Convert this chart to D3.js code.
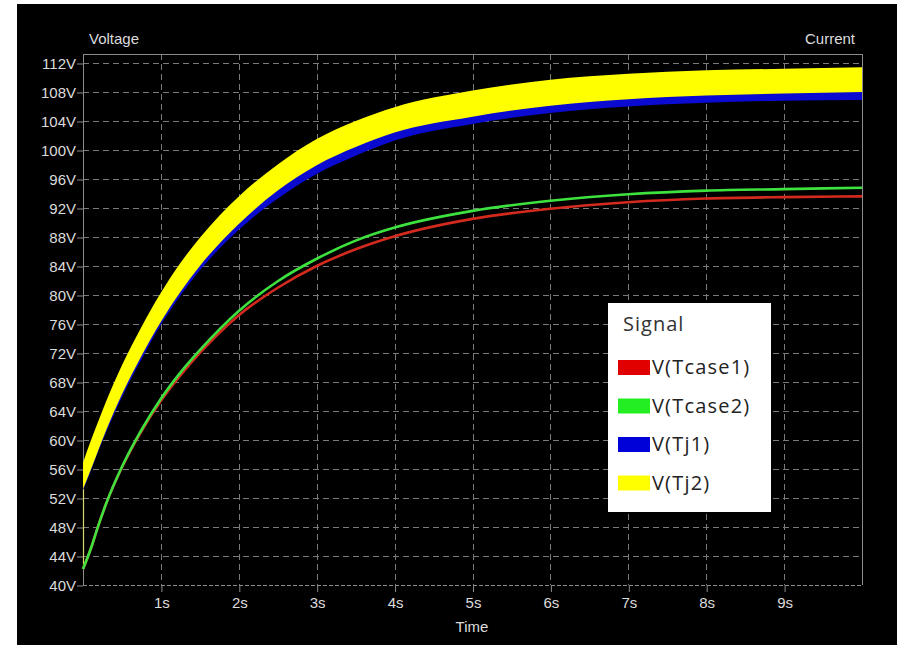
<!DOCTYPE html>
<html>
<head>
<meta charset="utf-8">
<script src="https://cdn.jsdelivr.net/npm/d3@7"></script>
<style>
  body { margin: 0; background: #ffffff; }
  svg { display: block; }
  .axis text { font-family: "Liberation Sans", Arial, sans-serif; font-size: 15px; fill: #dcdcdc; }
  .axis line { stroke: #8c8c8c; }
  .axis path { display: none; }
</style>
</head>
<body>
<svg id="chart" width="897" height="645"></svg>
<script>
// Sample times (s)
const times   = [0, 0.1, 0.2, 0.3, 0.5, 0.75, 1, 1.25, 1.5, 2, 2.5, 3, 3.5, 4, 5, 6, 7, 8, 9, 10];
// Case temperatures (as node voltages)
const tcase1  = [42.2, 45.0, 48.3, 51.3, 56.2, 61.2, 65.4, 68.9, 72.0, 77.2, 81.0, 84.0, 86.3, 88.1, 90.5, 91.9, 92.8, 93.3, 93.5, 93.6];
const tcase2  = [42.2, 45.0, 48.3, 51.3, 56.3, 61.4, 65.7, 69.3, 72.4, 77.8, 81.9, 85.0, 87.5, 89.3, 91.6, 93.0, 93.9, 94.4, 94.6, 94.8];
// Junction temperatures: ripple envelopes (low / high)
const tj1Low  = [53.0, 55.7, 58.5, 61.1, 65.9, 71.1, 75.9, 79.9, 83.4, 89.0, 93.3, 96.7, 99.2, 101.3, 103.6, 105.1, 106.0, 106.5, 106.8, 106.9];
const tj1High = [56.0, 59.0, 61.8, 64.5, 69.4, 74.6, 79.2, 83.2, 86.7, 92.2, 96.5, 99.9, 102.3, 104.2, 106.4, 107.9, 108.7, 109.2, 109.5, 109.7];
const tj2Low  = [53.2, 55.9, 58.7, 61.4, 66.3, 71.6, 76.3, 80.4, 84.0, 89.8, 94.4, 97.9, 100.4, 102.4, 104.6, 106.1, 107.0, 107.5, 107.8, 108.0];
const tj2High = [56.9, 59.9, 62.7, 65.4, 70.3, 75.6, 80.3, 84.4, 87.9, 93.6, 98.0, 101.5, 104.0, 105.9, 108.2, 109.7, 110.5, 111.0, 111.2, 111.4];
// Initial step of V(Tj2) at t = 0
const tj2Start = [42.2, 53.2];

// Axis ticks
const voltTicks = [40, 44, 48, 52, 56, 60, 64, 68, 72, 76, 80, 84, 88, 92, 96, 100, 104, 108, 112];
const timeTicks = [1, 2, 3, 4, 5, 6, 7, 8, 9];

// Legend
const signalNames  = ["V(Tcase1)", "V(Tcase2)", "V(Tj1)", "V(Tj2)"];
const signalColors = ["#e00000", "#22ee22", "#0000d8", "#ffff00"];
const traceColors  = ["#d42a1e", "#3ee23e", "#0a0ad0", "#ffff00"];

const svg = d3.select("#chart");
const W = 897, H = 645;
const plot = { left: 83, right: 862, top: 54, bottom: 585 };

// black panel
svg.append("rect").attr("x", 17).attr("y", 4).attr("width", W - 17).attr("height", H - 4).attr("fill", "#000000");

const x = d3.scaleLinear().domain([0, 10]).range([plot.left, plot.right]);
const y = d3.scaleLinear().domain([40, 113.24]).range([plot.bottom, plot.top]);

// grid
const grid = svg.append("g").attr("stroke", "#7a7a7a").attr("stroke-width", 1).attr("stroke-dasharray", "6,4");
grid.selectAll("line.h").data(voltTicks.filter(v => v > 40)).join("line")
  .attr("class", "h")
  .attr("x1", plot.left).attr("x2", plot.right)
  .attr("y1", d => Math.round(y(d)) + 0.5).attr("y2", d => Math.round(y(d)) + 0.5);
grid.selectAll("line.v").data(timeTicks).join("line")
  .attr("class", "v")
  .attr("y1", plot.top).attr("y2", plot.bottom)
  .attr("x1", d => Math.round(x(d)) + 0.5).attr("x2", d => Math.round(x(d)) + 0.5);

// frame
const frame = svg.append("g").attr("stroke", "#8c8c8c").attr("stroke-width", 1).attr("fill", "none");
frame.append("line").attr("x1", plot.left + 0.5).attr("x2", plot.left + 0.5).attr("y1", plot.top).attr("y2", plot.bottom);
frame.append("line").attr("x1", plot.right + 0.5).attr("x2", plot.right + 0.5).attr("y1", plot.top).attr("y2", plot.bottom);
frame.append("line").attr("x1", plot.left).attr("x2", plot.right).attr("y1", plot.top + 0.5).attr("y2", plot.top + 0.5);
frame.append("line").attr("x1", plot.left).attr("x2", plot.right + 1)
  .attr("y1", plot.bottom + 0.5).attr("y2", plot.bottom + 0.5).attr("stroke-dasharray", "4,2");

// axes
svg.append("g").attr("class", "axis")
  .attr("transform", `translate(${plot.left},0.5)`)
  .call(d3.axisLeft(y).tickValues(voltTicks).tickFormat(d => d + "V").tickSize(6).tickPadding(1));
svg.append("g").attr("class", "axis")
  .attr("transform", `translate(0.5,${plot.bottom})`)
  .call(d3.axisBottom(x).tickValues(timeTicks).tickFormat(d => d + "s").tickSize(7).tickPadding(5));

// traces
const idx = d3.range(times.length);
const band = (lo, hi) => d3.area().x(i => x(times[i])).y0(i => y(lo[i])).y1(i => y(hi[i])).curve(d3.curveMonotoneX);
const line = s => d3.line().x(i => x(times[i])).y(i => y(s[i])).curve(d3.curveMonotoneX);

const traces = svg.append("g");
traces.append("path").datum(idx).attr("d", band(tj1Low, tj1High)).attr("fill", traceColors[2]);
traces.append("path").datum(idx).attr("d", band(tj2Low, tj2High)).attr("fill", traceColors[3]);
traces.append("line")
  .attr("x1", x(0) + 0.5).attr("x2", x(0) + 0.5)
  .attr("y1", y(tj2Start[0])).attr("y2", y(tj2Start[1]))
  .attr("stroke", "#d8d870").attr("stroke-width", 1.2);
traces.append("path").datum(idx).attr("d", line(tcase1)).attr("fill", "none")
  .attr("stroke", traceColors[0]).attr("stroke-width", 2.6);
traces.append("path").datum(idx).attr("d", line(tcase2)).attr("fill", "none")
  .attr("stroke", traceColors[1]).attr("stroke-width", 2.6);

// titles
const label = svg.append("g").attr("font-family", "Liberation Sans, Arial, sans-serif")
  .attr("font-size", 15).attr("fill", "#dcdcdc");
label.append("text").attr("x", 89).attr("y", 44).text("Voltage");
label.append("text").attr("x", 855).attr("y", 44).attr("text-anchor", "end").text("Current");
label.append("text").attr("x", 472).attr("y", 632).attr("text-anchor", "middle").text("Time");

// legend
const lg = svg.append("g").attr("transform", "translate(608,303)");
lg.append("rect").attr("width", 163).attr("height", 209).attr("fill", "#ffffff");
lg.append("text").attr("x", 15).attr("y", 28)
  .attr("font-family", "Open Sans, Noto Sans, sans-serif").attr("font-size", 20)
  .attr("letter-spacing", 1).attr("fill", "#333333").text("Signal");
const items = lg.selectAll("g.item").data(signalNames).join("g")
  .attr("class", "item")
  .attr("transform", (d, i) => `translate(10,${64 + i * 38.5})`);
items.append("rect").attr("x", 0).attr("y", -7).attr("width", 32).attr("height", 15)
  .attr("fill", (d, i) => signalColors[i]);
items.append("text").attr("x", 34).attr("y", 7)
  .attr("font-family", "Open Sans, Noto Sans, sans-serif").attr("font-size", 20)
  .attr("letter-spacing", 1.2).attr("fill", "#222222").text(d => d);
</script>
</body>
</html>
